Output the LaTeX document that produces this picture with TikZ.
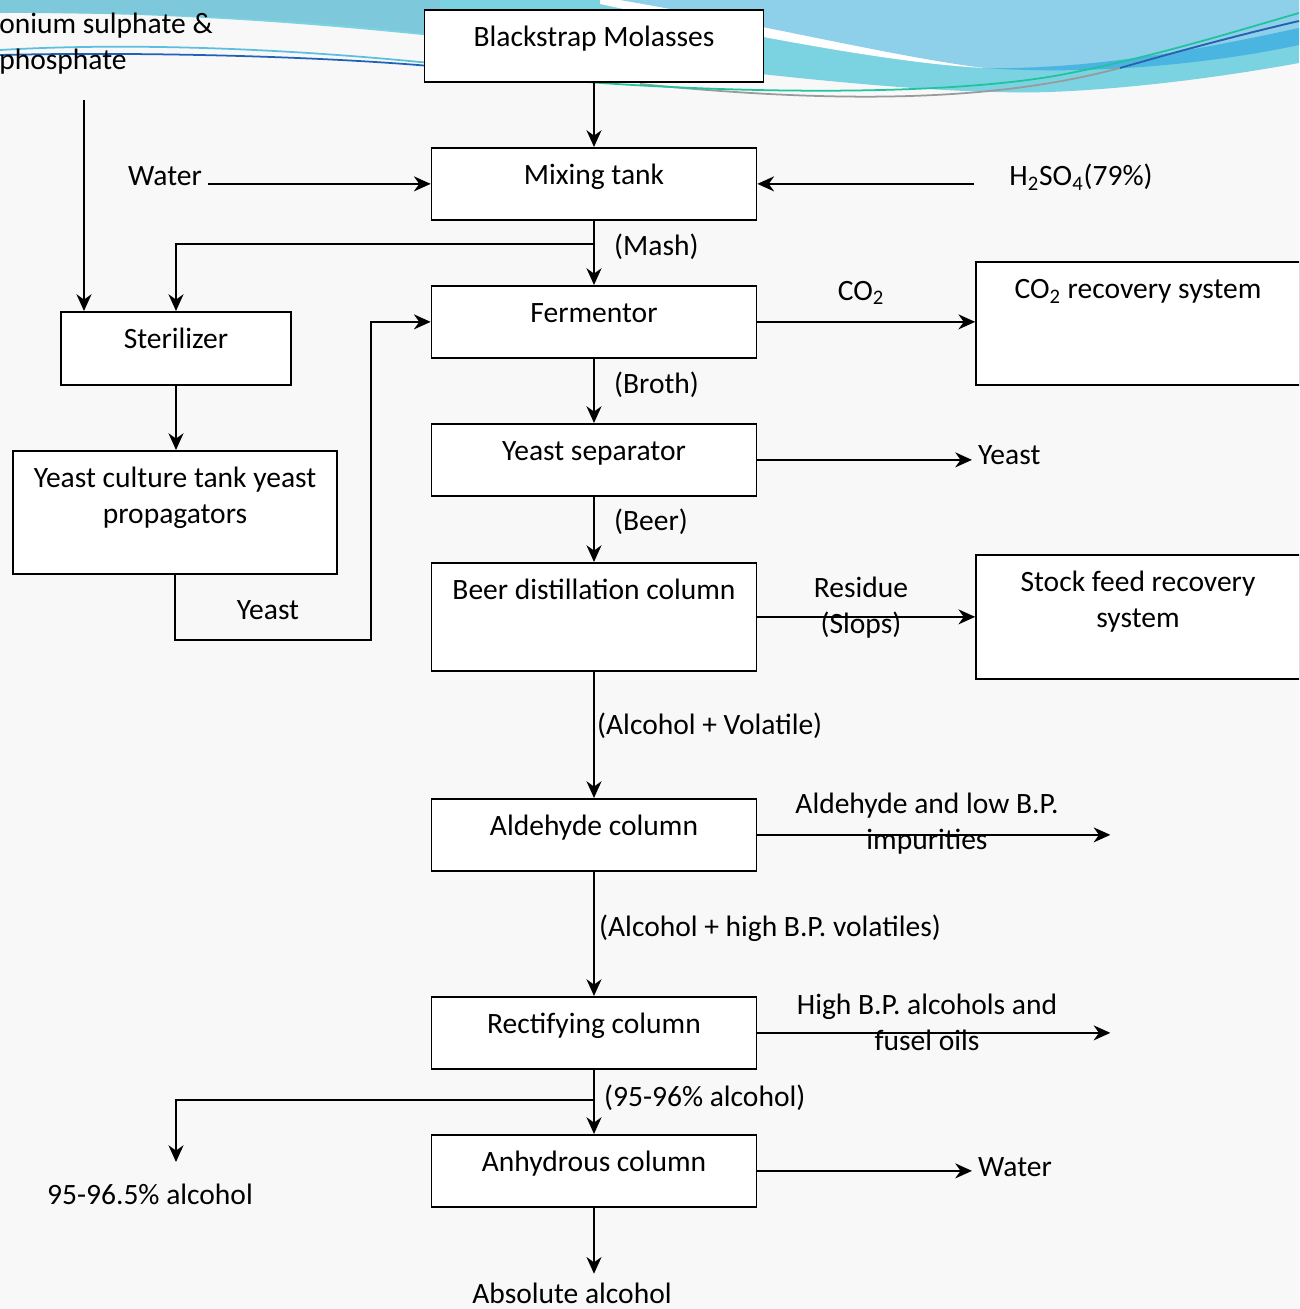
\documentclass[tikz,border=0pt]{standalone}
\usepackage{fontspec}
\setmainfont{Carlito}
\usetikzlibrary{positioning, arrows.meta}
\definecolor{paper}{HTML}{F8F8F8}
\definecolor{bandcyan}{HTML}{7BD3E2}
\definecolor{bandleft}{HTML}{7EC8DC}
\definecolor{bandblue}{HTML}{8ECFEA}
\definecolor{banddeep}{HTML}{4AB5E0}
\definecolor{swgreen}{HTML}{1FC39C}
\definecolor{swgrey}{HTML}{9A9A9A}
\definecolor{swnavy}{HTML}{1F63B8}
\definecolor{swlight}{HTML}{5BBFE0}

\begin{document}
\begin{tikzpicture}[x=0.02cm, y=-0.02cm,
    every node/.style={font=\fontsize{16.8pt}{20.4pt}\selectfont},
    box/.style={draw, line width=1pt, fill=white, anchor=north, inner sep=0pt,
        minimum width=6.5cm, align=center, text height=0.74cm, text depth=0.70cm},
    twoline/.style={text height=1.457cm, text depth=#1},
    flow/.style={->, line width=1.2pt},
    >={Stealth[length=9.5pt, width=8.5pt, inset=3pt]}]
    \clip (0,0) rectangle (1299,1309);
    \fill[paper] (0,0) rectangle (1299,1309);

    % slide swoosh
    \fill[bandcyan] (0,0) -- (0,13) .. controls (200,12) and (380,28) .. (600,55)
        .. controls (800,80) and (950,95) .. (1050,92) .. controls (1150,88) and (1250,72) .. (1299,63) -- (1299,0) -- cycle;
    \fill[bandleft] (0,0) -- (0,13) .. controls (150,12) and (330,20) .. (440,36) -- (440,0) -- cycle;
    \fill[white] (600,0) -- (600,4) .. controls (760,38) and (900,64) .. (985,68) -- (985,0) -- cycle;
    \fill[bandblue] (620,0) .. controls (760,24) and (900,58) .. (985,68)
        .. controls (1100,70) and (1220,45) .. (1299,28) -- (1299,0) -- cycle;
    \fill[banddeep] (985,68) .. controls (1100,70) and (1220,45) .. (1299,28)
        -- (1299,45) .. controls (1220,62) and (1100,76) .. (985,68) -- cycle;
    \draw[swlight, line width=1pt] (0,50) .. controls (100,44) and (250,45) .. (430,63);
    \draw[swnavy, line width=1pt] (0,55) .. controls (120,52) and (300,55) .. (430,66);
    \draw[swgrey, line width=1pt] (640,84) .. controls (850,105) and (1000,100) .. (1120,68)
        .. controls (1200,45) and (1260,30) .. (1299,21);
    \draw[swnavy, line width=1pt] (1120,68) .. controls (1200,45) and (1260,30) .. (1299,21);
    \draw[swgreen, line width=1pt] (560,80) .. controls (750,95) and (950,95) .. (1060,75)
        .. controls (1150,58) and (1240,30) .. (1299,13);

    % process boxes
    \node (molasses) [box, minimum width=6.78cm] at (594,9) {Blackstrap Molasses};
    \node (mix) [box] at (594,147) {Mixing tank};
    \node (ferm) [box] at (594,285) {Fermentor};
    \node (sep) [box] at (594,423) {Yeast separator};
    \node (still) [box, text depth=1.42cm] at (594,562) {Beer distillation column};
    \node (ald) [box] at (594,798) {Aldehyde column};
    \node (rect) [box] at (594,996) {Rectifying column};
    \node (anh) [box] at (594,1134) {Anhydrous column};
    \node (ster) [box, minimum width=4.6cm, text depth=0.72cm] at (176,311) {Sterilizer};
    \node (culture) [box, minimum width=6.48cm, twoline=1.003cm] at (175,450) {Yeast culture tank yeast\\propagators};
    \node (co2sys) [box, minimum width=6.48cm, text depth=1.72cm] at (1138,261) {CO\textsubscript{2} recovery system};
    \node (stock) [box, minimum width=6.48cm, twoline=1.023cm] at (1138,554) {Stock feed recovery\\system};

    % stream labels
    \node (salts) [anchor=base west, align=left, inner sep=0pt] at (-1,69) {onium sulphate \&\\phosphate};
    \node (water) at (165,176) {Water};
    \node (acid) at (1081,177) {H\textsubscript{2}SO\textsubscript{4}(79\%)};
    \node (mash) [anchor=west] at (608,247) {(Mash)};
    \node (co2) at (861,293) {CO\textsubscript{2}};
    \node (broth) [anchor=west] at (608,385) {(Broth)};
    \node (yeastout) [anchor=west] at (972,455) {Yeast};
    \node (beer) [anchor=west] at (608,522) {(Beer)};
    \node (yeastin) at (268,610) {Yeast};
    \node (slops) [align=center] at (861,608) {Residue\\(Slops)};
    \node (vol) [anchor=west] at (591,726) {(Alcohol + Volatile)};
    \node (low) [align=center] at (927,824) {Aldehyde and low B.P.\\impurities};
    \node (high) [anchor=west] at (593,928) {(Alcohol + high B.P. volatiles)};
    \node (fusel) [align=center] at (927,1022) {High B.P. alcohols and\\fusel oils};
    \node (cut) [anchor=west] at (598,1098) {(95-96\% alcohol)};
    \node (raw) at (150,1194) {95-96.5\% alcohol};
    \node (waterout) [anchor=west] at (972,1167) {Water};
    \node (abs) [inner ysep=1pt] at (572,1293) {Absolute alcohol};
    \coordinate (feed) at (84,100);
    \coordinate (rawend) at (176,1162);

    % connectors
    \draw[flow] (molasses.south) -- (mix.north);
    \draw[flow] (water.east |- mix.west) -- (mix.west);
    \draw[flow] ([xshift=-0.58cm]acid.west |- mix.east) -- (mix.east);
    \draw[flow] (mix.south) -- (ferm.north);
    \draw[flow] ([yshift=-0.46cm]mix.south) -| (ster.north);
    \draw[flow] (feed) -- (feed |- ster.north);
    \draw[flow] (ster.south) -- (ster.south |- culture.north);
    \draw[flow] (culture.south) -- ++(0,65) -- ++(196,0) |- (ferm.west);
    \draw[flow] (ferm.east) -- (ferm.east -| co2sys.west);
    \draw[flow] (ferm.south) -- (sep.north);
    \draw[flow] (sep.east) -- (sep.east -| yeastout.west);
    \draw[flow] (sep.south) -- (still.north);
    \draw[flow] (still.east) -- (still.east -| stock.west);
    \draw[flow] (still.south) -- (ald.north);
    \draw[flow] (ald.east) -- ++(353,0);
    \draw[flow] (ald.south) -- (rect.north);
    \draw[flow] (rect.east) -- ++(353,0);
    \draw[flow] (rect.south) -- (anh.north);
    \draw[flow] ([yshift=-0.6cm]rect.south) -| (rawend);
    \draw[flow] (anh.east) -- (anh.east -| waterout.west);
    \draw[flow] (anh.south) -- ++(0,66);
\end{tikzpicture}
\end{document}
